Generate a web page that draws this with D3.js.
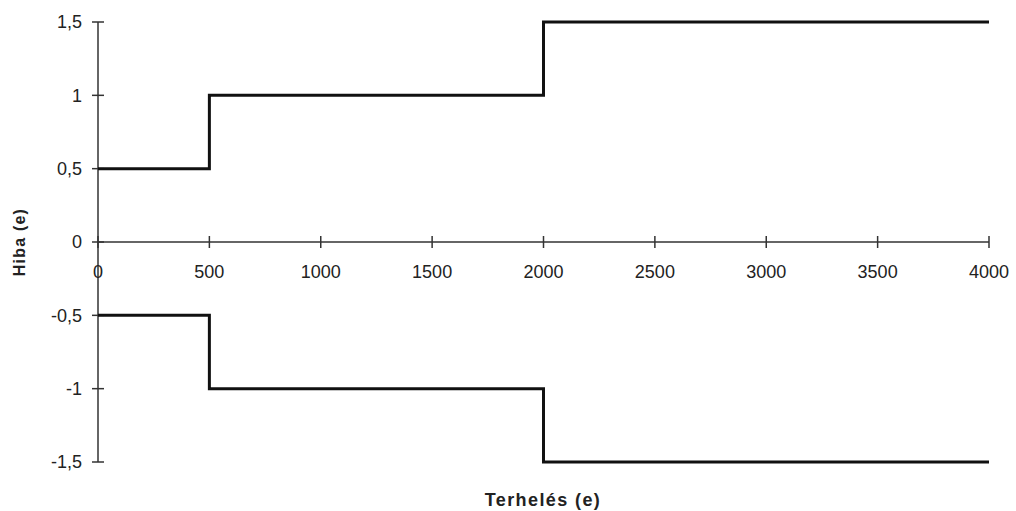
<!DOCTYPE html>
<html>
<head>
<meta charset="utf-8">
<script src="https://cdn.jsdelivr.net/npm/d3@7"></script>
<style>
  body { margin: 0; background: #fff; }
  text { font-family: "Liberation Sans", Arial, sans-serif; fill: #222; }
</style>
</head>
<body>
<svg id="chart" width="1016" height="511"></svg>
<script>
// step data: load (x) vs error bounds (y)
const loads = [0, 500, 2000, 4000];
const upper = [0.5, 1, 1.5, 1.5];
const lower = [-0.5, -1, -1.5, -1.5];
const xTicks = [0, 500, 1000, 1500, 2000, 2500, 3000, 3500, 4000];
const yTicks = [-1.5, -1, -0.5, 0, 0.5, 1, 1.5];

const svg = d3.select('#chart');
const x = d3.scaleLinear().domain([0, 4000]).range([98, 989]);
const y = d3.scaleLinear().domain([-1.5, 1.5]).range([462, 22]);
const fmt = d => String(d).replace('.', ',');

// y axis with crossing ticks
const yAxis = svg.append('g').attr('transform', `translate(${x(0)},0)`);
yAxis.append('line').attr('y1', y(1.5)).attr('y2', y(-1.5))
  .attr('stroke', '#333').attr('stroke-width', 1.5);
yAxis.selectAll('.tick').data(yTicks).join('line')
  .attr('x1', -6).attr('x2', 6)
  .attr('y1', d => y(d)).attr('y2', d => y(d))
  .attr('stroke', '#333').attr('stroke-width', 1.5);
yAxis.selectAll('.lbl').data(yTicks).join('text')
  .attr('x', -16).attr('y', d => y(d)).attr('dy', '0.36em')
  .attr('text-anchor', 'end').attr('font-size', 18)
  .text(fmt);

// x axis at y = 0
const xAxis = svg.append('g').attr('transform', `translate(0,${y(0)})`);
xAxis.append('line').attr('x1', x(0)).attr('x2', x(4000))
  .attr('stroke', '#333').attr('stroke-width', 1.5);
xAxis.selectAll('.tick').data(xTicks).join('line')
  .attr('x1', d => x(d)).attr('x2', d => x(d))
  .attr('y1', -6).attr('y2', 6)
  .attr('stroke', '#333').attr('stroke-width', 1.5);
xAxis.selectAll('.lbl').data(xTicks).join('text')
  .attr('x', d => x(d)).attr('y', 30)
  .attr('dy', '0.36em')
  .attr('text-anchor', 'middle').attr('font-size', 18)
  .text(d => d);

// step lines
const line = d3.line().x(d => x(d[0])).y(d => y(d[1])).curve(d3.curveStepAfter);
[upper, lower].forEach(vals => {
  svg.append('path')
    .datum(loads.map((l, i) => [l, vals[i]]))
    .attr('d', line)
    .attr('fill', 'none')
    .attr('stroke', '#111')
    .attr('stroke-width', 3);
});

// titles
svg.append('text')
  .attr('x', 543).attr('y', 506)
  .attr('text-anchor', 'middle').attr('font-size', 18).attr('font-weight', 'bold')
  .attr('letter-spacing', 1.4)
  .text('Terhelés (e)');
svg.append('text')
  .attr('transform', `translate(25,${y(0)}) rotate(-90)`)
  .attr('text-anchor', 'middle').attr('font-size', 16).attr('font-weight', 'bold')
  .attr('letter-spacing', 1.2)
  .text('Hiba (e)');
</script>
</body>
</html>
